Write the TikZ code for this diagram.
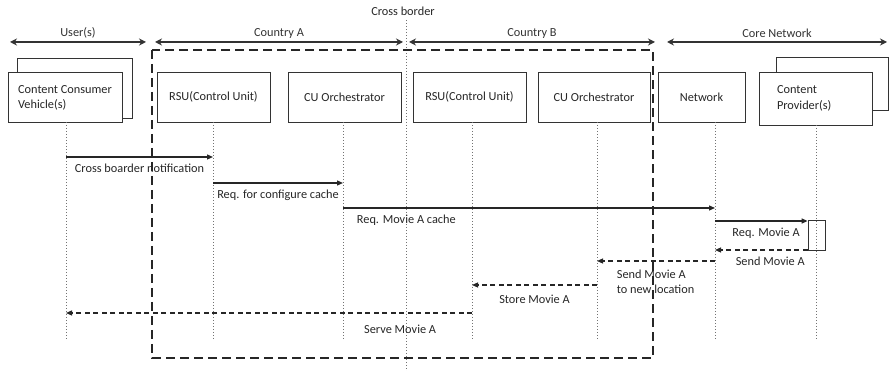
\documentclass[tikz,border=0pt]{standalone}
\usepackage{fontspec}
\setmainfont{Carlito}
\usetikzlibrary{arrows.meta, positioning}

\tikzset{
  box/.style={draw=black!80, fill=white, line width=0.8pt, inner sep=0pt},
  life/.style={black!55, line width=0.8pt, dash pattern=on 1.2pt off 1.8pt},
  msg/.style={-{Triangle[length=6pt,width=5pt]}, line width=1.2pt, black!85},
  reply/.style={msg, dash pattern=on 5pt off 3.5pt},
  span/.style={{Stealth[length=7pt,width=7pt]}-{Stealth[length=7pt,width=7pt]}, line width=1.3pt, black!80},
  region/.style={line width=2pt, black!85, dash pattern=on 9pt off 5pt},
  lbl/.style={below, yshift=-3},
}

\begin{document}
\begin{tikzpicture}[x=1pt, y=-1pt, font=\fontsize{12.3}{15.5}\selectfont, text=black!85]

  \useasboundingbox (0,0) rectangle (889,371);

  % Cross border
  \node (cb) at (403,11) {Cross border};
  \coordinate (cbtop) at (406,20);
  \coordinate (cbbot) at (406,371);
  \draw[life] (cbtop) -- (cbbot);

  % Spans
  \coordinate (usrL) at (10,42);  \coordinate (usrR) at (146,42);
  \coordinate (caL) at (155,42);  \coordinate (caR) at (403,42);
  \coordinate (cbL) at (409,42);  \coordinate (cbR) at (655,42);
  \coordinate (cnL) at (667,42);  \coordinate (cnR) at (887,42);
  \draw[span] (usrL) -- (usrR) node[midway, above] {User(s)};
  \draw[span] (caL) -- (caR) node[midway, above] {Country A};
  \draw[span] (cbL) -- (cbR) node[midway, above] {Country B};
  \draw[span] (cnL) -- (cnR) node[midway, above] {Core Network};

  % Border region
  \draw[region] (152,50) rectangle (653,358);

  % Participants
  \node[box, minimum width=115, minimum height=60] (vehback) at (74.5,88) {};
  \node[box, minimum width=114, minimum height=50, align=left, text depth=-4pt] (veh) at (65,97) {Content Consumer\\Vehicle(s)};
  \node[box, minimum width=113, minimum height=50] (rsuA) at (213.5,97) {RSU(Control Unit)};
  \node[box, minimum width=113, minimum height=50] (cuoA) at (344.5,97) {CU Orchestrator};
  \node[box, minimum width=113, minimum height=50] (rsuB) at (469.5,97) {RSU(Control Unit)};
  \node[box, minimum width=112, minimum height=50] (cuoB) at (594,97) {CU Orchestrator};
  \node[box, minimum width=87, minimum height=50] (net) at (701.5,97) {Network};
  \node[box, minimum width=112, minimum height=53] (provback) at (832,83.5) {};
  \node[box, minimum width=113, minimum height=53, text width=77, inner xsep=18, align=left] (prov) at (815.5,98.5) {Content\\Provider(s)};

  % Lifelines
  \coordinate (bot) at (0,340);
  \coordinate (lveh) at (66,122);
  \coordinate (lrsuA) at (213,122);
  \coordinate (lcuoA) at (343,122);
  \coordinate (lrsuB) at (472,122);
  \coordinate (lcuoB) at (597,122);
  \coordinate (lnet) at (715,122);
  \coordinate (lprov) at (816,125);
  \draw[life] (lveh) -- (lveh |- bot);
  \draw[life] (lrsuA) -- (lrsuA |- bot);
  \draw[life] (lcuoA) -- (lcuoA |- bot);
  \draw[life] (lrsuB) -- (lrsuB |- bot);
  \draw[life] (lcuoB) -- (lcuoB |- bot);
  \draw[life] (lnet) -- (lnet |- bot);
  \draw[life] (lprov) -- (lprov |- bot);

  \node[box, fill=none, minimum width=17, minimum height=30] (act) at (816.5,235) {};

  % Messages
  \coordinate (m1) at (0,157);
  \coordinate (m2) at (0,183);
  \coordinate (m3) at (0,208);
  \coordinate (m4) at (0,221);
  \coordinate (m5) at (0,250);
  \coordinate (m6) at (0,261);
  \coordinate (m7) at (0,285);
  \coordinate (m8) at (0,313);

  \draw[msg] (lveh |- m1) -- (lrsuA |- m1) node[midway, lbl] {Cross boarder notification};
  \draw[msg] (lrsuA |- m2) -- (lcuoA |- m2) node[midway, lbl] {Req. for configure cache};
  \draw[msg] (lcuoA |- m3) -- (lnet |- m3) node[pos=0, lbl, anchor=north west, xshift=10] {Req. Movie A cache};
  \draw[msg] (lnet |- m4) -- (act.west |- m4) node[pos=1, lbl, anchor=north east, xshift=-4] {Req. Movie A};
  \draw[reply] (act.west |- m5) -- (lnet |- m5) node[pos=0, lbl, anchor=north east, xshift=1] {Send Movie A};
  \draw[reply] (lnet |- m6) -- (lcuoB |- m6) node[pos=1, lbl, anchor=north west, xshift=16, yshift=-2, align=left] {Send Movie A\\to new location};
  \draw[reply] (lcuoB |- m7) -- (lrsuB |- m7) node[midway, lbl, yshift=-3] {Store Movie A};
  \draw[reply] (lrsuB |- m8) -- (lveh |- m8) node[pos=0.177, lbl, yshift=-5] {Serve Movie A};

\end{tikzpicture}
\end{document}
